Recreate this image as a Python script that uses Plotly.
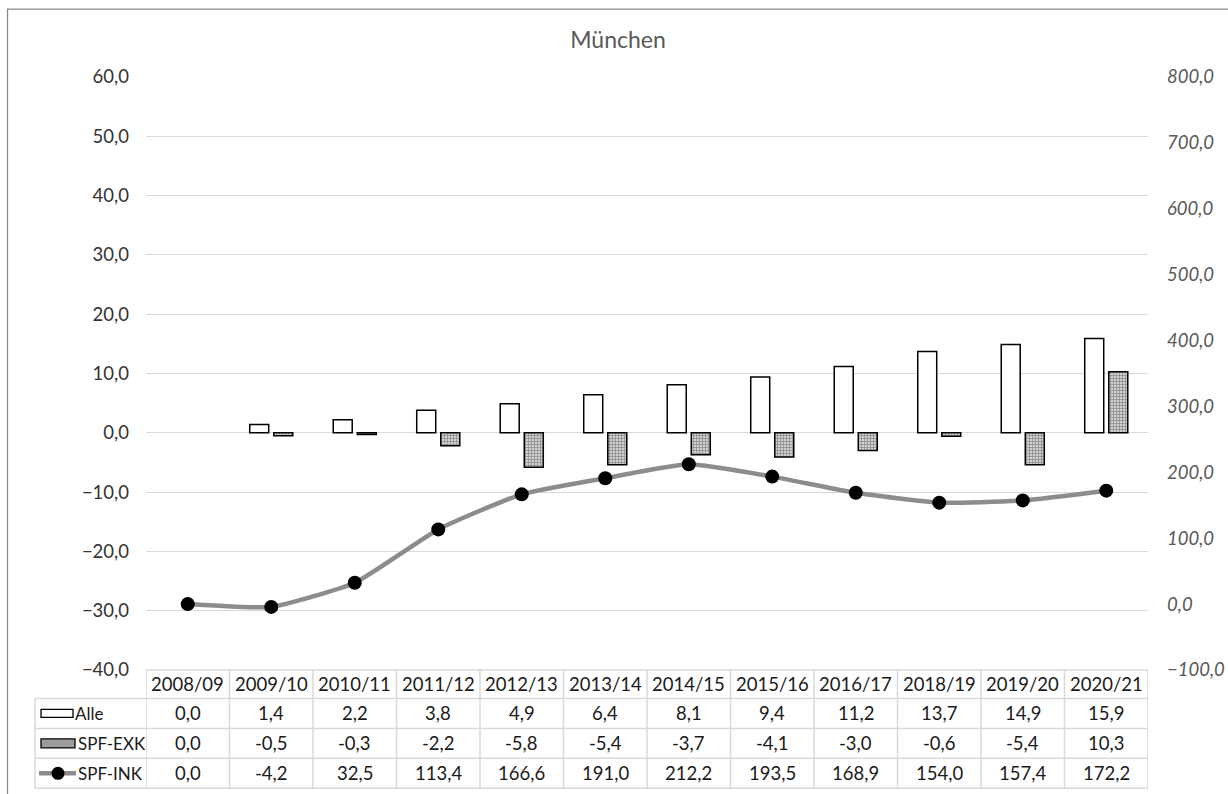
import plotly.graph_objects as go

# Schuljahre und Werte (München)
seasons = ["2008/09", "2009/10", "2010/11", "2011/12", "2012/13", "2013/14",
           "2014/15", "2015/16", "2016/17", "2018/19", "2019/20", "2020/21"]
alle = [0.0, 1.4, 2.2, 3.8, 4.9, 6.4, 8.1, 9.4, 11.2, 13.7, 14.9, 15.9]
spf_exk = [0.0, -0.5, -0.3, -2.2, -5.8, -5.4, -3.7, -4.1, -3.0, -0.6, -5.4, 10.3]
spf_ink = [0.0, -4.2, 32.5, 113.4, 166.6, 191.0, 212.2, 193.5, 168.9, 154.0, 157.4, 172.2]

series_names = ["Alle", "SPF-EXK", "SPF-INK"]
series_values = [alle, spf_exk, spf_ink]

FONT = "Lato"
FS = 18.5
W_FIG, H_FIG = 1228, 794
L, R, T, B = 146, 1148, 76.5, 670.5   # plot area in pixels
PW, PH = R - L, B - T


def px(x):
    return (x - L) / PW


def py(y):
    return (B - y) / PH


def fmt(v):
    return f"{v:.1f}".replace(".", ",")


def outline(vals):
    # zero-height bars get no outline
    return [0 if v == 0 else 1.5 for v in vals]


fig = go.Figure()

fig.add_trace(go.Bar(
    x=seasons, y=alle, name="Alle",
    marker=dict(color="white", line=dict(color="black", width=outline(alle))),
))
fig.add_trace(go.Bar(
    x=seasons, y=spf_exk, name="SPF-EXK",
    marker=dict(color="#b5b5b5", line=dict(color="black", width=outline(spf_exk)),
                pattern=dict(shape="+", size=3, solidity=0.45,
                             fgcolor="#4a4a4a", bgcolor="#d0d0d0")),
))
fig.add_trace(go.Scatter(
    x=seasons, y=spf_ink, name="SPF-INK", yaxis="y2", mode="lines+markers",
    line=dict(color="#8c8c8c", width=4.5, shape="spline", smoothing=0.5),
    marker=dict(color="black", size=14),
))

shapes = []
annotations = []
grid = dict(color="#d9d9d9", width=1.5)

# chart border
shapes.append(dict(type="rect", xref="paper", yref="paper",
                   x0=px(7.5), x1=px(1240), y0=py(805), y1=py(8.5),
                   line=dict(color="#8a8a8a", width=1.3), layer="below"))

# data table grid
row_lines = [670.5, 699, 729, 759, 789]
shapes.append(dict(type="line", xref="x", yref="paper", x0=-0.5, x1=len(seasons) - 0.5,
                   y0=py(row_lines[0]), y1=py(row_lines[0]), line=grid))
for yl in row_lines[1:]:
    shapes.append(dict(type="line", xref="paper", yref="paper", x0=px(35), x1=px(R),
                       y0=py(yl), y1=py(yl), line=grid))
shapes.append(dict(type="line", xref="paper", yref="paper", x0=px(35), x1=px(35),
                   y0=py(row_lines[1]), y1=py(row_lines[-1]), line=grid))
for i in range(len(seasons) + 1):
    shapes.append(dict(type="line", xref="x", yref="paper", x0=i - 0.5, x1=i - 0.5,
                       y0=py(row_lines[0]), y1=py(row_lines[-1]), line=grid))

cell_font = dict(family=FONT, size=FS, color="#1a1a1a")
name_font = dict(family=FONT, size=17, color="#1a1a1a")
hdr_y = (row_lines[0] + row_lines[1]) / 2
for i, s in enumerate(seasons):
    annotations.append(dict(x=i, y=py(hdr_y), xref="x", yref="paper", text=s,
                            showarrow=False, font=cell_font, xanchor="center", yanchor="middle"))
for r, (name, vals) in enumerate(zip(series_names, series_values)):
    yc = (row_lines[r + 1] + row_lines[r + 2]) / 2
    for i, v in enumerate(vals):
        annotations.append(dict(x=i, y=py(yc), xref="x", yref="paper", text=fmt(v),
                                showarrow=False, font=cell_font, xanchor="center", yanchor="middle"))
    tx = 73 if r == 0 else 76
    annotations.append(dict(x=px(tx), y=py(yc), xref="paper", yref="paper", text=name,
                            showarrow=False, font=name_font, xanchor="left", yanchor="middle"))

# legend keys inside the table
y_alle = (row_lines[1] + row_lines[2]) / 2
shapes.append(dict(type="rect", xref="paper", yref="paper", x0=px(41), x1=px(73),
                   y0=py(y_alle + 4), y1=py(y_alle - 4),
                   fillcolor="white", line=dict(color="black", width=1.3)))
y_exk = (row_lines[2] + row_lines[3]) / 2
shapes.append(dict(type="rect", xref="paper", yref="paper", x0=px(41), x1=px(75),
                   y0=py(y_exk + 4.5), y1=py(y_exk - 4.5),
                   fillcolor="#9c9c9c", line=dict(color="black", width=1.3)))
y_ink = (row_lines[3] + row_lines[4]) / 2
shapes.append(dict(type="line", xref="paper", yref="paper", x0=px(39), x1=px(76),
                   y0=py(y_ink), y1=py(y_ink), line=dict(color="#8c8c8c", width=4.5)))
shapes.append(dict(type="circle", xref="paper", yref="paper", x0=px(51.5), x1=px(64.5),
                   y0=py(y_ink + 6.5), y1=py(y_ink - 6.5),
                   fillcolor="black", line=dict(color="black", width=0)))

fig.update_layout(
    width=W_FIG, height=H_FIG,
    margin=dict(l=L, r=W_FIG - R, t=T, b=H_FIG - B, pad=0, autoexpand=False),
    paper_bgcolor="white", plot_bgcolor="white",
    separators=",.",
    showlegend=False,
    barmode="group", bargap=0.424, bargroupgap=0.21,
    title=dict(text="München", xref="container", x=618 / W_FIG, xanchor="center",
               yref="container", y=1 - 40 / H_FIG, yanchor="middle",
               font=dict(family=FONT, size=23, color="#595959"), automargin=False),
    font=dict(family=FONT, size=FS, color="#333333"),
    xaxis=dict(type="category", range=[-0.5, len(seasons) - 0.5], showticklabels=False,
               showgrid=False, zeroline=False, showline=False, ticks="", automargin=False),
    yaxis=dict(range=[-40, 60], dtick=10, tickformat=".1f", showgrid=True,
               gridcolor="#d9d9d9", gridwidth=1.3, zeroline=False, showline=False,
               ticks="", ticklabelstandoff=16, automargin=False,
               tickfont=dict(family=FONT, size=FS, color="#333333")),
    yaxis2=dict(range=[-100, 800], dtick=100, tickformat=".1f", overlaying="y", side="right",
                showgrid=False, zeroline=False, showline=False, ticks="", ticklabelstandoff=18,
                automargin=False,
                tickfont=dict(family=FONT, size=FS, color="#595959", style="italic")),
    shapes=shapes,
    annotations=annotations,
)

fig.write_html("out.html")
